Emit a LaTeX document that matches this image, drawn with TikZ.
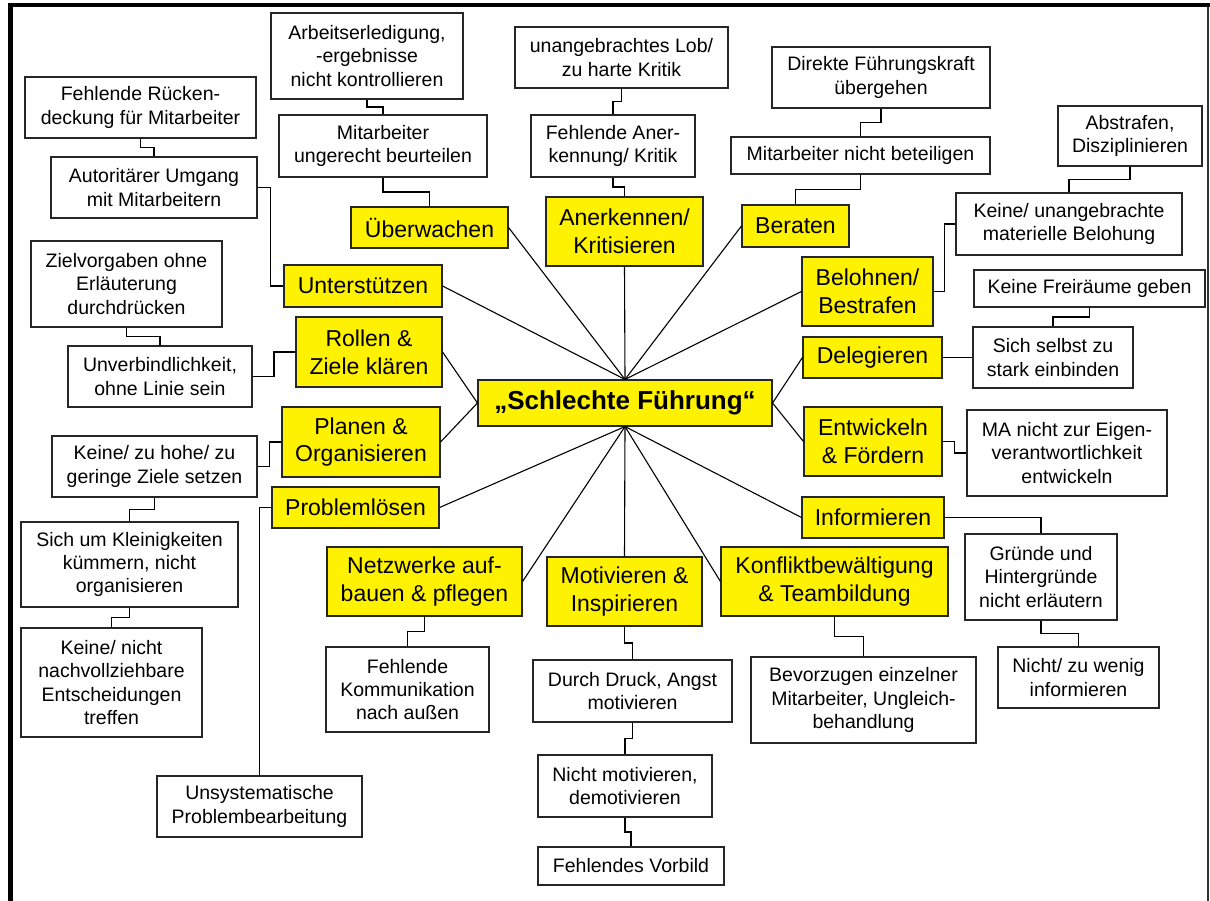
\documentclass[tikz,border=0pt]{standalone}
\usepackage{fontspec}
\setmainfont{Liberation Sans}
\usetikzlibrary{calc}
\begin{document}
\begin{tikzpicture}[x=1pt,y=-1pt,
  box/.style={draw=black!85, line width=1.1pt, inner sep=0pt, align=center, text=black},
  wb/.style={box, fill=white, font=\fontsize{19.5pt}{23.4pt}\selectfont},
  yb/.style={box, fill=yellow, font=\fontsize{23pt}{27.8pt}\selectfont},
  link/.style={draw=black, line width=1.1pt},
  vh/.style={to path={|- ($(\tikztostart)!.5!(\tikztotarget)$) -| (\tikztotarget)}},
  hv/.style={to path={-| ($(\tikztostart)!.5!(\tikztotarget)$) |- (\tikztotarget)}},
]
\path[use as bounding box] (0,0) rectangle (1210,901);

% centre
\node[box, fill=yellow, font=\fontsize{26pt}{30pt}\selectfont\bfseries,
      minimum width=294pt, minimum height=46pt] (center) at (625,403) {„Schlechte Führung“};

% leadership tasks
\node[yb, minimum width=157pt, minimum height=41pt] (ueberw) at (429.5,227.5) {Überwachen};
\node[yb, minimum width=158pt, minimum height=42pt] (unterst) at (363,286) {Unterstützen};
\node[yb, minimum width=157pt, minimum height=69pt] (anerk) at (624.5,231.5) {Anerkennen/\\Kritisieren};
\node[yb, minimum width=107pt, minimum height=42pt] (beraten) at (795.5,226) {Beraten};
\node[yb, minimum width=131pt, minimum height=69pt] (belohnen) at (867.5,291.5) {Belohnen/\\Bestrafen};
\node[yb, minimum width=146pt, minimum height=70pt] (rollen) at (369,352) {Rollen \&\\Ziele klären};
\node[yb, minimum width=158pt, minimum height=70pt] (planen) at (361,442) {Planen \&\\Organisieren};
\node[yb, minimum width=167pt, minimum height=41pt] (problem) at (355.5,507.5) {Problemlösen};
\node[yb, minimum width=195pt, minimum height=69pt] (netz) at (424.5,581.5) {Netzwerke auf-\\bauen \& pflegen};
\node[yb, minimum width=155pt, minimum height=69pt] (motiv) at (624.5,591.5) {Motivieren \&\\Inspirieren};
\node[yb, minimum width=227pt, minimum height=69pt] (konflikt) at (834.5,581.5) {Konfliktbewältigung\\\& Teambildung};
\node[yb, minimum width=142pt, minimum height=41pt] (inform) at (873,517.5) {Informieren};
\node[yb, minimum width=138pt, minimum height=69pt] (entw) at (873,441.5) {Entwickeln\\\& Fördern};
\node[yb, minimum width=139pt, minimum height=41pt] (deleg) at (872.5,357.5) {Delegieren};

% failures
\node[wb, minimum width=192pt, minimum height=86pt] (arb) at (367,56) {Arbeitserledigung,\\-ergebnisse\\nicht kontrollieren};
\node[wb, minimum width=231pt, minimum height=61pt] (rueck) at (140.5,107.5) {Fehlende Rücken-\\deckung für Mitarbeiter};
\node[wb, minimum width=206pt, minimum height=61pt] (auto) at (154,187.5) {Autoritärer Umgang\\mit Mitarbeitern};
\node[wb, minimum width=208pt, minimum height=62pt] (ungerecht) at (383,146) {Mitarbeiter\\ungerecht beurteilen};
\node[wb, minimum width=191pt, minimum height=86pt] (ziel) at (126.5,284) {Zielvorgaben ohne\\Erläuterung\\durchdrücken};
\node[wb, minimum width=213pt, minimum height=61pt] (lob) at (621.5,57.5) {unangebrachtes Lob/\\zu harte Kritik};
\node[wb, minimum width=164pt, minimum height=62pt] (fanerk) at (613,146) {Fehlende Aner-\\kennung/ Kritik};
\node[wb, minimum width=218pt, minimum height=61pt] (direkt) at (881,77.5) {Direkte Führungskraft\\übergehen};
\node[wb, minimum width=259pt, minimum height=37pt] (beteil) at (860.5,155.5) {Mitarbeiter nicht beteiligen};
\node[wb, minimum width=144pt, minimum height=60pt] (abstr) at (1130,136) {Abstrafen,\\Disziplinieren};
\node[wb, minimum width=226pt, minimum height=62pt] (belohn) at (1069,224) {Keine/ unangebrachte\\materielle Belohung};
\node[wb, minimum width=231pt, minimum height=37pt] (frei) at (1089.5,288.5) {Keine Freiräume geben};
\node[wb, minimum width=160pt, minimum height=61pt] (selbst) at (1053,357.5) {Sich selbst zu\\stark einbinden};
\node[wb, minimum width=200pt, minimum height=86pt] (eigen) at (1067,453) {MA nicht zur Eigen-\\verantwortlichkeit\\entwickeln};
\node[wb, minimum width=152pt, minimum height=86pt] (gruende) at (1041,577) {Gründe und\\Hintergründe\\nicht erläutern};
\node[wb, minimum width=161pt, minimum height=61pt] (wenig) at (1078.5,677.5) {Nicht/ zu wenig\\informieren};
\node[wb, minimum width=225pt, minimum height=86pt] (bevorz) at (863.5,700) {Bevorzugen einzelner\\Mitarbeiter, Ungleich-\\behandlung};
\node[wb, minimum width=199pt, minimum height=62pt] (druck) at (632.5,691) {Durch Druck, Angst\\motivieren};
\node[wb, minimum width=174pt, minimum height=62pt] (nichtmot) at (625,786) {Nicht motivieren,\\demotivieren};
\node[wb, minimum width=186pt, minimum height=38pt] (vorbild) at (631,866) {Fehlendes Vorbild};
\node[wb, minimum width=163pt, minimum height=85pt] (komm) at (407.5,689.5) {Fehlende\\Kommunikation\\nach außen};
\node[wb, minimum width=184pt, minimum height=61pt] (unverb) at (160,376.5) {Unverbindlichkeit,\\ohne Linie sein};
\node[wb, minimum width=205pt, minimum height=61pt] (ziele) at (154.5,466.5) {Keine/ zu hohe/ zu\\geringe Ziele setzen};
\node[wb, minimum width=217pt, minimum height=85pt] (klein) at (129.5,564.5) {Sich um Kleinigkeiten\\kümmern, nicht\\organisieren};
\node[wb, minimum width=181pt, minimum height=109pt] (entsch) at (111.5,682.5) {Keine/ nicht\\nachvollziehbare\\Entscheidungen\\treffen};
\node[wb, minimum width=205pt, minimum height=61pt] (unsys) at (259.5,806.5) {Unsystematische\\Problembearbeitung};

% spokes from the centre
\draw[link] (center.north) -- (ueberw.east);
\draw[link] (center.north) -- (unterst.east);
\draw[link] (center.north) -- (anerk.south);
\draw[link] (center.north) -- (beraten.west);
\draw[link] (center.north) -- (belohnen.west);
\draw[link] (center.west) -- (rollen.east);
\draw[link] (center.west) -- (planen.east);
\draw[link] (center.east) -- (deleg.west);
\draw[link] (center.east) -- (entw.west);
\draw[link] (center.south) -- (problem.east);
\draw[link] (center.south) -- (netz.east);
\draw[link] (center.south) -- (motiv.north);
\draw[link] (center.south) -- (konflikt.west);
\draw[link] (center.south) -- (inform.west);

% elbow connectors
\draw[link] (arb.south) to[vh] (ungerecht.north);
\draw[link] (ungerecht.south) to[vh] (ueberw.north);
\draw[link] (rueck.south) to[vh] (auto.north);
\draw[link] (auto.east) to[hv] (unterst.west);
\draw[link] (lob.south) to[vh] (fanerk.north);
\draw[link] (fanerk.south) to[vh] (anerk.north);
\draw[link] (direkt.south) to[vh] (beteil.north);
\draw[link] (beteil.south) to[vh] (beraten.north);
\draw[link] (abstr.south) to[vh] (belohn.north);
\draw[link] (belohn.west) to[hv] (belohnen.east);
\draw[link] (frei.south) to[vh] (selbst.north);
\draw[link] (deleg.east) -- (selbst.west);
\draw[link] (entw.east) to[hv] (eigen.west);
\draw[link] (inform.east) -| (gruende.north);
\draw[link] (gruende.south) to[vh] (wenig.north);
\draw[link] (konflikt.south) to[vh] (bevorz.north);
\draw[link] (motiv.south) to[vh] (druck.north);
\draw[link] (druck.south) to[vh] (nichtmot.north);
\draw[link] (nichtmot.south) to[vh] (vorbild.north);
\draw[link] (netz.south) to[vh] (komm.north);
\draw[link] (ziel.south) to[vh] (unverb.north);
\draw[link] (unverb.east) to[hv] (rollen.west);
\draw[link] (ziele.east) to[hv] (planen.west);
\draw[link] (ziele.south) to[vh] (klein.north);
\draw[link] (klein.south) to[vh] (entsch.north);
\draw[link] (problem.west) -| (unsys.north);

% frame
\draw[line width=4.5pt] (10.5,901) -- (10.5,3.3);
\draw[line width=4pt] (8.25,5.3) -- (1210,5.3);
\draw[line width=1.5pt, black!80] (1208,7) -- (1208,901);
\end{tikzpicture}
\end{document}
